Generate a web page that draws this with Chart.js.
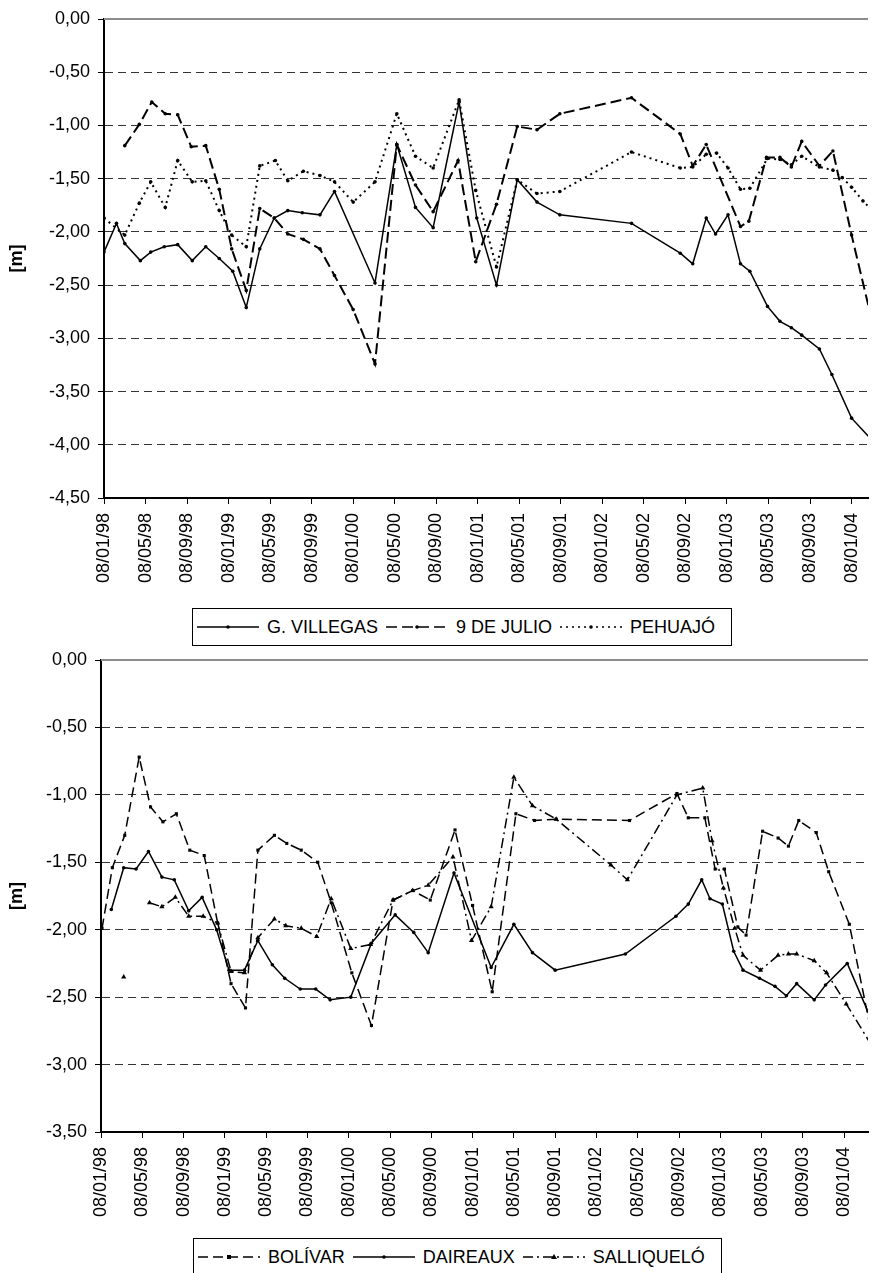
<!DOCTYPE html>
<html>
<head>
<meta charset="utf-8">
<script src="https://cdn.jsdelivr.net/npm/chart.js@4.4.1/dist/chart.umd.min.js"></script>
<style>
  body { margin: 0; background: #fff; overflow: hidden; width: 872px; height: 1273px; position: relative; font-family: "Liberation Sans", Arial, sans-serif; }
  canvas { position: absolute; left: 0; }
  .legend { position: absolute; border: 1px solid #000; background: #fff; display: flex; align-items: center; height: 36px; padding: 0 8px 0 4px; font-size: 18px; color: #000; white-space: nowrap; }
  .legend svg { margin-left: 0; margin-right: 8px; }
  .legend span { margin-right: 8px; }
</style>
</head>
<body>
<canvas id="topChart" width="872" height="600" style="top:0"></canvas>
<div class="legend" id="topLegend" style="left:192px; top:608px;"></div>
<canvas id="bottomChart" width="872" height="600" style="top:640px"></canvas>
<div class="legend" id="bottomLegend" style="left:193px; top:1238px;"></div>
<script>
// eje x: meses desde 08/01/98, una marca cada 4 meses
const tickLabels = ["08/01/98", "08/05/98", "08/09/98", "08/01/99", "08/05/99", "08/09/99", "08/01/00", "08/05/00",
  "08/09/00", "08/01/01", "08/05/01", "08/09/01", "08/01/02", "08/05/02", "08/09/02", "08/01/03", "08/05/03",
  "08/09/03", "08/01/04"];
const tickMonths = tickLabels.map((l, i) => i * 4);

// grafico superior
const villegasMonths = [0, 1.2, 2.0, 3.5, 4.5, 5.8, 7.1, 8.5, 9.8, 11.1, 12.4, 13.7, 15.0, 16.4, 17.7, 19.1, 20.8, 22.2,
  26.1, 28.2, 30.0, 31.7, 34.2, 35.9, 37.8, 39.8, 41.7, 43.9, 50.8, 55.5, 56.7, 58.0, 58.9, 60.1, 61.3, 62.2, 63.9, 65.1,
  66.2, 67.2, 68.9, 70.1, 72.0, 74.0];
const villegasLevels = [-2.19, -1.92, -2.11, -2.27, -2.19, -2.14, -2.12, -2.27, -2.14, -2.25, -2.37, -2.71, -2.16, -1.87,
  -1.80, -1.82, -1.84, -1.62, -2.48, -1.18, -1.77, -1.96, -0.78, -1.87, -2.50, -1.51, -1.72, -1.84, -1.92, -2.20, -2.30,
  -1.87, -2.02, -1.84, -2.30, -2.37, -2.70, -2.84, -2.90, -2.97, -3.10, -3.34, -3.75, -3.96];

const julioMonths = [2.0, 3.4, 4.6, 5.9, 7.1, 8.4, 9.8, 11.1, 12.3, 13.7, 15.0, 16.4, 17.7, 19.2, 20.8, 22.2, 24.0, 26.1,
  28.2, 30.0, 31.7, 34.1, 35.8, 37.8, 39.8, 41.7, 43.9, 50.8, 55.5, 56.7, 58.0, 61.3, 62.1, 63.8, 65.1, 66.2, 67.2, 68.9,
  70.2, 72.0, 74.0];
const julioLevels = [-1.19, -0.99, -0.78, -0.89, -0.90, -1.20, -1.19, -1.60, -2.16, -2.55, -1.78, -1.87, -2.02, -2.07,
  -2.16, -2.41, -2.73, -3.24, -1.18, -1.56, -1.81, -1.33, -2.28, -1.74, -1.01, -1.04, -0.89, -0.74, -1.08, -1.38, -1.18,
  -1.95, -1.90, -1.30, -1.30, -1.39, -1.15, -1.38, -1.24, -2.03, -2.85];

const pehuajoMonths = [0, 2.0, 3.4, 4.5, 5.9, 7.1, 8.5, 9.8, 11.1, 12.3, 13.7, 15.0, 16.5, 17.7, 19.2, 20.8, 22.2, 24.0,
  26.1, 28.2, 30.0, 31.7, 34.2, 35.8, 37.8, 39.8, 41.7, 43.9, 50.8, 55.5, 56.7, 58.0, 59.0, 60.1, 61.3, 62.2, 63.9, 65.1,
  66.2, 67.2, 68.9, 70.2, 71.1, 72.0, 73.1, 74.0];
const pehuajoLevels = [-1.87, -2.03, -1.73, -1.53, -1.77, -1.33, -1.53, -1.52, -1.80, -2.03, -2.14, -1.38, -1.33, -1.52,
  -1.43, -1.47, -1.53, -1.72, -1.53, -0.89, -1.29, -1.40, -0.76, -1.61, -2.33, -1.51, -1.64, -1.62, -1.25, -1.40, -1.39,
  -1.27, -1.26, -1.40, -1.60, -1.59, -1.31, -1.32, -1.37, -1.29, -1.39, -1.42, -1.49, -1.58, -1.71, -1.80];

// grafico inferior
const bolivarMonths = [0.1, 1.1, 2.3, 3.7, 4.8, 6.0, 7.3, 8.6, 10.0, 11.3, 12.6, 14.0, 15.2, 16.8, 18.0, 19.4, 21.0, 22.3,
  24.3, 26.2, 28.3, 30.2, 31.9, 34.3, 36.0, 37.9, 40.2, 42.0, 44.1, 51.2, 55.8, 56.9, 58.5, 59.5, 60.4, 61.7, 62.5, 64.1,
  65.6, 66.6, 67.6, 69.3, 70.5, 72.5, 74.6];
const bolivarLevels = [-1.99, -1.54, -1.30, -0.72, -1.09, -1.20, -1.14, -1.41, -1.45, -1.95, -2.40, -2.58, -1.41, -1.30,
  -1.36, -1.41, -1.50, -1.80, -2.32, -2.71, -1.78, -1.71, -1.78, -1.26, -1.82, -2.46, -1.14, -1.19, -1.18, -1.19, -0.99,
  -1.17, -1.17, -1.55, -1.55, -1.98, -2.04, -1.27, -1.32, -1.38, -1.19, -1.28, -1.57, -1.96, -2.75];

const daireauxMonths = [1.0, 2.2, 3.4, 4.6, 5.9, 7.1, 8.5, 9.8, 11.2, 12.4, 13.9, 15.2, 16.6, 17.8, 19.3, 20.8, 22.2, 24.2,
  26.2, 28.5, 30.3, 31.7, 34.2, 37.8, 40.0, 41.8, 44.0, 50.8, 55.7, 56.9, 58.2, 59.0, 60.2, 61.3, 62.2, 63.8, 65.3, 66.4,
  67.4, 69.1, 70.2, 72.3, 74.6];
const daireauxLevels = [-1.85, -1.54, -1.55, -1.42, -1.61, -1.63, -1.86, -1.76, -2.00, -2.30, -2.30, -2.08, -2.26, -2.36,
  -2.44, -2.44, -2.52, -2.50, -2.10, -1.89, -2.02, -2.17, -1.58, -2.28, -1.96, -2.17, -2.30, -2.18, -1.90, -1.81, -1.63,
  -1.77, -1.81, -2.16, -2.30, -2.36, -2.42, -2.49, -2.40, -2.52, -2.41, -2.25, -2.66];

const salliqueloMonths = [2.2, 3.4, 4.7, 5.9, 7.2, 8.5, 9.9, 11.3, 12.6, 13.9, 15.2, 16.8, 17.9, 19.4, 20.9, 22.3, 24.2,
  26.1, 28.3, 30.2, 31.7, 34.1, 35.9, 37.8, 40.0, 41.8, 44.1, 49.4, 51.0, 55.8, 58.3, 59.2, 60.3, 61.4, 62.2, 63.9, 65.6,
  66.6, 67.4, 69.1, 70.3, 72.2, 74.6];
const salliqueloLevels = [-2.35, null, -1.80, -1.83, -1.76, -1.90, -1.90, -1.95, -2.31, -2.32, -2.06, -1.92, -1.97, -1.99,
  -2.05, -1.77, -2.14, -2.11, -1.78, -1.71, -1.67, -1.46, -2.08, -1.83, -0.87, -1.08, -1.18, -1.52, -1.63, -1.00, -0.95,
  -1.34, -1.69, -1.99, -2.19, -2.30, -2.19, -2.18, -2.18, -2.23, -2.32, -2.55, -2.85];

const FONT = "'Liberation Sans', Arial, sans-serif";

function pts(months, levels) {
  return months.map((m, i) => ({ x: m, y: levels[i] }));
}

function serie(label, months, levels, dash, width, pointStyle, radius) {
  return {
    label: label,
    data: pts(months, levels),
    borderColor: "#000",
    backgroundColor: "#000",
    borderWidth: width,
    borderDash: dash,
    pointStyle: pointStyle,
    pointRadius: radius,
    pointBorderWidth: 0,
    tension: 0,
    spanGaps: false
  };
}

// linea gris superior del area de trazado
const topBorder = {
  id: "topBorder",
  afterDraw(chart) {
    const a = chart.chartArea, ctx = chart.ctx;
    ctx.save();
    ctx.strokeStyle = "#8c8c8c";
    ctx.lineWidth = 2;
    ctx.beginPath();
    ctx.moveTo(a.left, a.top);
    ctx.lineTo(a.right, a.top);
    ctx.stroke();
    ctx.restore();
  }
};

function makeChart(id, datasets, yMin, xMax, axisLeft, padTop, xAxisHeight) {
  return new Chart(document.getElementById(id), {
    type: "line",
    data: { datasets: datasets },
    plugins: [topBorder],
    options: {
      responsive: false,
      animation: false,
      devicePixelRatio: 1,
      layout: { padding: { top: padTop, left: 0, right: 0, bottom: 0 } },
      plugins: { legend: { display: false }, tooltip: { enabled: false } },
      scales: {
        x: {
          type: "linear",
          min: 0,
          max: xMax,
          afterBuildTicks: (s) => { s.ticks = tickMonths.map(v => ({ value: v })); },
          afterFit: (s) => { s.height = xAxisHeight; s.paddingLeft = 0; s.paddingRight = 0; },
          ticks: {
            autoSkip: false,
            minRotation: 90,
            maxRotation: 90,
            padding: 9,
            color: "#000",
            font: { family: FONT, size: 18 },
            callback: (v) => tickLabels[Math.round(v / 4)]
          },
          grid: { drawOnChartArea: false, drawTicks: true, tickLength: 6, tickColor: "#000" },
          border: { color: "#000", width: 2 }
        },
        y: {
          min: yMin,
          max: 0,
          afterFit: (s) => { s.width = axisLeft; },
          ticks: {
            stepSize: 0.5,
            padding: 8,
            color: "#000",
            font: { family: FONT, size: 18 },
            callback: (v) => (Math.abs(v) < 1e-9 ? 0 : v).toFixed(2).replace(".", ",")
          },
          title: {
            display: true,
            text: "[m]",
            color: "#000",
            font: { family: FONT, size: 18, weight: "bold" },
            padding: { top: 6, bottom: 0 }
          },
          grid: { color: "#333", lineWidth: 1, tickLength: 6, tickColor: "#000" },
          border: { color: "#000", width: 2, dash: [8, 5] }
        }
      }
    }
  });
}

makeChart("topChart", [
  serie("G. VILLEGAS", villegasMonths, villegasLevels, [], 1.5, "circle", 1.8),
  serie("9 DE JULIO", julioMonths, julioLevels, [11, 5], 2, "circle", 1.8),
  serie("PEHUAJÓ", pehuajoMonths, pehuajoLevels, [2, 4], 2, "circle", 1.8)
], -4.5, 73.58, 104, 19, 102);

makeChart("bottomChart", [
  serie("BOLÍVAR", bolivarMonths, bolivarLevels, [10, 5], 1.5, "rect", 2.2),
  serie("DAIREAUX", daireauxMonths, daireauxLevels, [], 1.5, "circle", 1.8),
  serie("SALLIQUELÓ", salliqueloMonths, salliqueloLevels, [10, 4, 2, 4], 1.5, "triangle", 3)
], -3.5, 74.31, 101, 20, 108);

// leyendas
function legendItem(label, dash, marker) {
  const d = dash.length ? ` stroke-dasharray="${dash.join(",")}"` : "";
  let m = `<circle cx="31" cy="9" r="1.8" fill="#000"/>`;
  if (marker === "rect") m = `<rect x="29" y="7" width="4" height="4" fill="#000"/>`;
  if (marker === "triangle") m = `<polygon points="31,6 34,11 28,11" fill="#000"/>`;
  return `<svg width="62" height="18"><line x1="0" y1="9" x2="62" y2="9" stroke="#000" stroke-width="1.5"${d}/>${m}</svg><span>${label}</span>`;
}
document.getElementById("topLegend").innerHTML =
  legendItem("G. VILLEGAS", [], "circle") + legendItem("9 DE JULIO", [11, 5], "circle") + legendItem("PEHUAJÓ", [2, 4], "circle");
document.getElementById("bottomLegend").innerHTML =
  legendItem("BOLÍVAR", [10, 5], "rect") + legendItem("DAIREAUX", [], "circle") + legendItem("SALLIQUELÓ", [10, 4, 2, 4], "triangle");
</script>
</body>
</html>
